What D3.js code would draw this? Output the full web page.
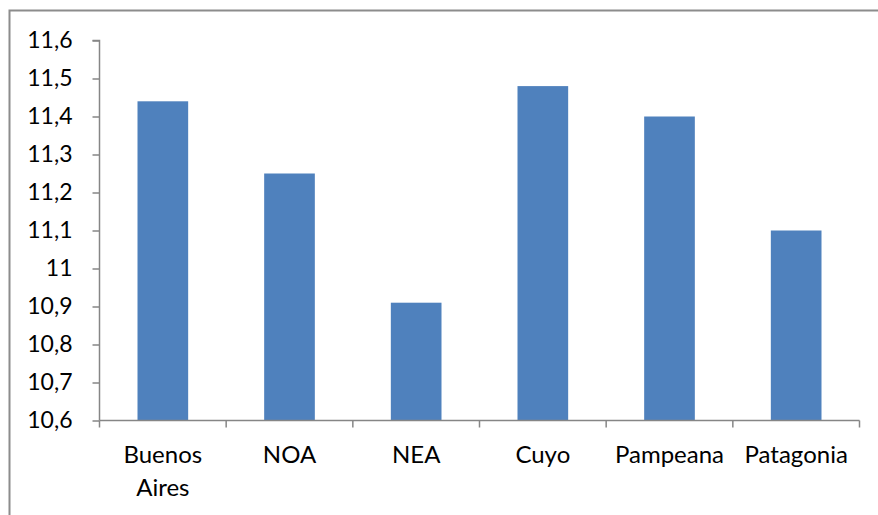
<!DOCTYPE html>
<html><head><meta charset="utf-8">
<script src="https://cdn.jsdelivr.net/npm/d3@7"></script>
<style>body{margin:0;background:#fff}svg{display:block}</style>
</head><body>
<svg id="c" width="878" height="515"></svg>
<script>
const categories = ["Buenos Aires","NOA","NEA","Cuyo","Pampeana","Patagonia"];
const values = [11.44, 11.25, 10.91, 11.48, 11.40, 11.10];
const yTicks = [10.6,10.7,10.8,10.9,11.0,11.1,11.2,11.3,11.4,11.5,11.6];
const yTickLabels = ["10,6","10,7","10,8","10,9","11","11,1","11,2","11,3","11,4","11,5","11,6"];

const svg = d3.select("#c");
const font = "Lato, 'Open Sans', sans-serif";
// chart frame
svg.append("rect").attr("x",9.5).attr("y",10.5).attr("width",900).attr("height",600)
  .attr("fill","none").attr("stroke","#8c8c8c").attr("stroke-width",2);

const x0 = 99.5, x1 = 859.5, yTop = 40.5, yBot = 420.5;
const x = d3.scaleBand().domain(categories).range([x0,x1]).paddingInner(0.6).paddingOuter(0.3);
const xs = d3.scaleBand().domain(categories).range([x0,x1]);
const y = d3.scaleLinear().domain([10.6,11.6]).range([yBot,yTop]);

svg.append("g").selectAll("rect").data(categories).join("rect")
  .attr("x",d=>x(d)).attr("width",x.bandwidth())
  .attr("y",(d,i)=>y(values[i])).attr("height",(d,i)=>yBot-y(values[i]))
  .attr("fill","#4f81bd");

// y axis
const gy = svg.append("g").attr("transform",`translate(${x0},0)`)
  .call(d3.axisLeft(y).tickValues(yTicks).tickFormat((d,i)=>yTickLabels[i]).tickSize(7).tickPadding(20));
gy.select(".domain").attr("stroke","#868686").attr("stroke-width",1.5).attr("d",`M-7,${yTop}H0V${yBot}`);
gy.selectAll(".tick line").attr("stroke","#868686").attr("stroke-width",1.5);
gy.selectAll(".tick text").attr("font-family",font).attr("font-size",23).attr("fill","#000");

// x axis
const gx = svg.append("g").attr("transform",`translate(0,${yBot})`);
gx.append("line").attr("x1",x0).attr("x2",x1).attr("stroke","#868686").attr("stroke-width",1.5);
const bounds = categories.map(d=>xs(d)).concat([x1]);
gx.selectAll("line.t").data(bounds).join("line").attr("class","t")
  .attr("x1",d=>d).attr("x2",d=>d).attr("y1",0).attr("y2",7)
  .attr("stroke","#868686").attr("stroke-width",1.5);
const lab = gx.selectAll("text").data(categories).join("text")
  .attr("text-anchor","middle").attr("font-family",font).attr("font-size",24).attr("fill","#000")
  .attr("transform",d=>`translate(${xs(d)+xs.bandwidth()/2},42)`);
lab.each(function(d){
  const words = d==="Buenos Aires" ? ["Buenos","Aires"] : [d];
  d3.select(this).selectAll("tspan").data(words).join("tspan")
    .attr("x",0).attr("dy",(w,i)=>i===0?0:33).text(w=>w);
});
</script>
</body></html>
